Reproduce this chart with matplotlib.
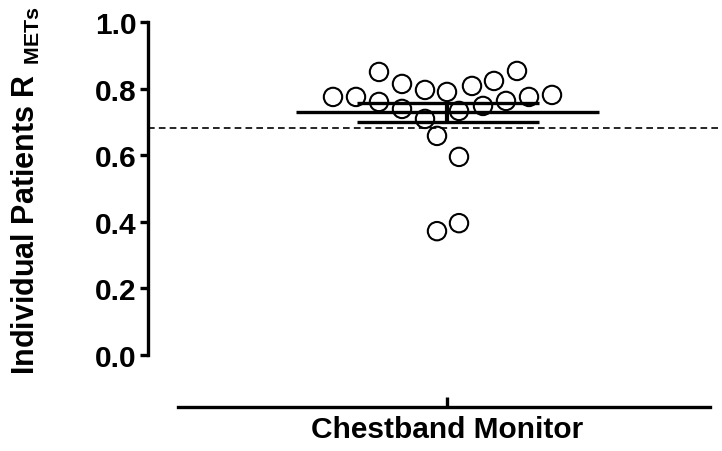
import numpy as np
import matplotlib
matplotlib.use('Agg')
import matplotlib.pyplot as plt

plt.rcParams['font.family'] = ['Liberation Sans', 'DejaVu Sans']
plt.rcParams['font.weight'] = 'bold'
plt.rcParams['axes.labelweight'] = 'bold'
plt.rcParams['mathtext.fontset'] = 'custom'
plt.rcParams['mathtext.rm'] = 'Liberation Sans:bold'
plt.rcParams['mathtext.bf'] = 'Liberation Sans:bold'

category = 'Chestband Monitor'
r_mets = [0.775, 0.775, 0.850, 0.760, 0.814, 0.739, 0.796, 0.709, 0.658, 0.372,
          0.790, 0.733, 0.595, 0.396, 0.808, 0.748, 0.823, 0.763, 0.853, 0.775, 0.781]
# horizontal scatter offsets of the column (in category units)
jitter = [-1.14, -0.91, -0.68, -0.68, -0.45, -0.45, -0.22, -0.22, -0.10, -0.10,
          0.00, 0.12, 0.12, 0.12, 0.25, 0.36, 0.47, 0.59, 0.70, 0.82, 1.05]
reference_r = 0.682
y_ticks = [0.0, 0.2, 0.4, 0.6, 0.8, 1.0]

vals = np.array(r_mets)
mean = vals.mean()
sem = vals.std(ddof=1) / np.sqrt(len(vals))

fig = plt.figure(figsize=(7.22, 4.52), dpi=100)
ax = fig.add_axes([148/722, 44/452, 1 - 148/722, (408 - 23)/452])

ax.axhline(reference_r, color='black', lw=1.2, ls=(0, (4, 2.5)), zorder=1)

ax.scatter(jitter, vals, s=175, facecolors='none', edgecolors='black',
           linewidths=1.5, zorder=3)

ax.hlines(mean, -1.51, 1.52, color='black', lw=2.4, zorder=2)
ax.hlines([mean - sem, mean + sem], -0.9, 0.92, color='black', lw=2.4, zorder=2)
ax.vlines(0, mean - sem, mean + sem, color='black', lw=3, zorder=2)

ax.set_xlim(-2.99, 2.75)
ax.set_ylim(-0.156, 1.0)

for s in ['top', 'right']:
    ax.spines[s].set_visible(False)
ax.spines['left'].set_bounds(0, 1)
ax.spines['bottom'].set_bounds(-2.69, 2.63)
ax.spines['left'].set_linewidth(2.4)
ax.spines['bottom'].set_linewidth(2.4)

ax.set_yticks(y_ticks)
ax.set_yticklabels([f'{t:.1f}' for t in y_ticks])
ax.tick_params(axis='y', direction='out', length=6, width=2.4, labelsize=21.5, pad=2)
ax.set_xticks([0])
ax.set_xticklabels([category])
ax.tick_params(axis='x', direction='in', length=7, width=2.4, labelsize=21.5, pad=6)

ax.set_ylabel(r'Individual Patients R$\ _\mathrm{METs}$', fontsize=22)
ax.yaxis.set_label_coords(-0.185, 0.566)

fig.savefig('out.png', dpi=100)
